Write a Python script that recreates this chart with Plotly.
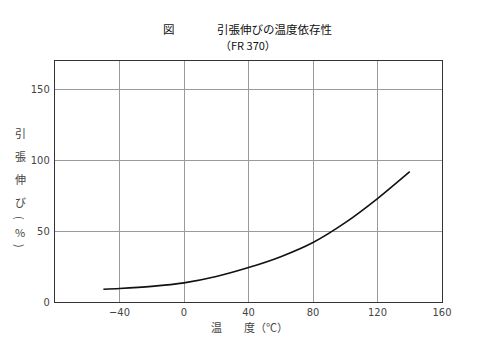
import plotly.graph_objects as go

temps = [-50, -40, -20, 0, 20, 40, 60, 80, 100, 120, 140]
elong = [9, 9.5, 11, 13.5, 18, 24.3, 32, 42, 56, 73, 92]

x_ticks = [-40, 0, 40, 80, 120, 160]
x_labels = ["−40", "0", "40", "80", "120", "160"]
y_ticks = [0, 50, 100, 150]
y_labels = ["0", "50", "100", "150"]

jp = "Noto Sans CJK JP"
num = "Liberation Sans Narrow, DejaVu Sans Condensed, Liberation Sans"

ML, MR, MT, MB = 55, 58, 61, 57
W, H = 500, 359
pw = W - ML - MR
ph = H - MT - MB


def px(x):
    return (x - ML) / pw


def py(y):
    return (H - MB - y) / ph


fig = go.Figure()
fig.add_trace(go.Scatter(x=temps, y=elong, mode="lines",
                         line=dict(color="#111111", width=1.6, shape="spline", smoothing=0.8),
                         showlegend=False, hoverinfo="skip"))

anns = []


def ann(text, x, y, size=12, color="#111111", angle=0):
    anns.append(dict(text=text, x=px(x), y=py(y), xref="paper", yref="paper",
                     showarrow=False, xanchor="center", yanchor="middle",
                     textangle=angle,
                     font=dict(family=jp, size=size, color=color)))


ann("図", 169, 29, size=11.5)
ann("引張伸びの温度依存性", 274, 29, size=11.5)
ann("（FR 370）", 248, 45, size=11)
for ch, yy in [("引", 133), ("張", 156), ("伸", 179), ("び", 202)]:
    ann(ch, 20, yy, size=11, color="#444444")
ann("(", 20, 218, size=11, color="#444444", angle=90)
ann("%", 20, 232, size=11, color="#444444")
ann(")", 20, 246, size=11, color="#444444", angle=90)
ann("温　　度（℃）", 249, 327, size=11, color="#444444")

fig.update_layout(
    width=W, height=H,
    margin=dict(l=ML, r=MR, t=MT, b=MB),
    paper_bgcolor="white", plot_bgcolor="white",
    xaxis=dict(range=[-80, 160], tickvals=x_ticks, ticktext=x_labels,
               showgrid=True, gridcolor="#9a9a9a", gridwidth=1,
               showline=True, linecolor="#333333", linewidth=1.2, mirror=True,
               ticks="", zeroline=False,
               tickfont=dict(family=num, size=11, color="#444444")),
    yaxis=dict(range=[0, 170], tickvals=y_ticks, ticktext=y_labels,
               showgrid=True, gridcolor="#9a9a9a", gridwidth=1,
               showline=True, linecolor="#333333", linewidth=1.2, mirror=True,
               ticks="", zeroline=False, ticklabelstandoff=2,
               tickfont=dict(family=num, size=11, color="#444444")),
    annotations=anns,
)

fig.write_html("out.html", config={"displayModeBar": False},
               post_script="document.body.style.margin='0';document.body.style.padding='0';")
